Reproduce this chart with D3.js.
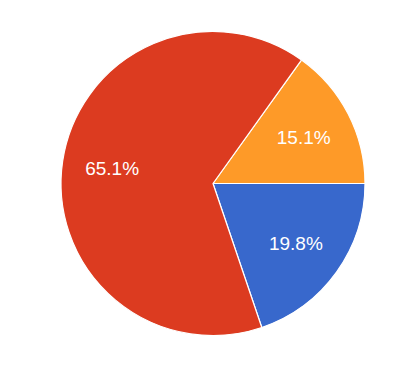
<!DOCTYPE html>
<html>
<head>
<meta charset="utf-8">
<script src="https://cdn.jsdelivr.net/npm/d3@7"></script>
<style>
  html, body { margin: 0; padding: 0; background: #fff; }
</style>
</head>
<body>
<script>
// slices in drawing order (clockwise from the start angle)
const labels = ["Orange", "Blue", "Red"];
const values = [15.1, 19.8, 65.1];
const colors = ["#fe9a28", "#3868cc", "#dc3b20"];

const WIDTH = 414, HEIGHT = 368;
const cx = 213, cy = 183.5, radius = 152;

const svg = d3.select("body").append("svg")
    .attr("width", WIDTH)
    .attr("height", HEIGHT);

const g = svg.append("g")
    .attr("transform", "translate(" + cx + "," + cy + ")");

// start so that the first slice ends at 3 o'clock
const start = Math.PI / 2 - (values[0] / 100) * 2 * Math.PI;

const pie = d3.pie()
    .sort(null)
    .value(d => d)
    .startAngle(start)
    .endAngle(start + 2 * Math.PI);

const arcs = pie(values);

const arc = d3.arc().innerRadius(0).outerRadius(radius);
const labelArc = d3.arc().innerRadius(102).outerRadius(102);

g.selectAll("path")
    .data(arcs)
    .enter().append("path")
    .attr("d", arc)
    .attr("fill", (d, i) => colors[i])
    .attr("stroke", "#fff")
    .attr("stroke-width", 1.2);

g.selectAll("text")
    .data(arcs)
    .enter().append("text")
    .attr("transform", d => "translate(" + labelArc.centroid(d) + ")")
    .attr("text-anchor", "middle")
    .attr("dy", "0.36em")
    .attr("font-family", "Arial, 'Liberation Sans', sans-serif")
    .attr("font-size", 19)
    .attr("fill", "#fff")
    .text(d => d.data.toFixed(1) + "%");
</script>
</body>
</html>
